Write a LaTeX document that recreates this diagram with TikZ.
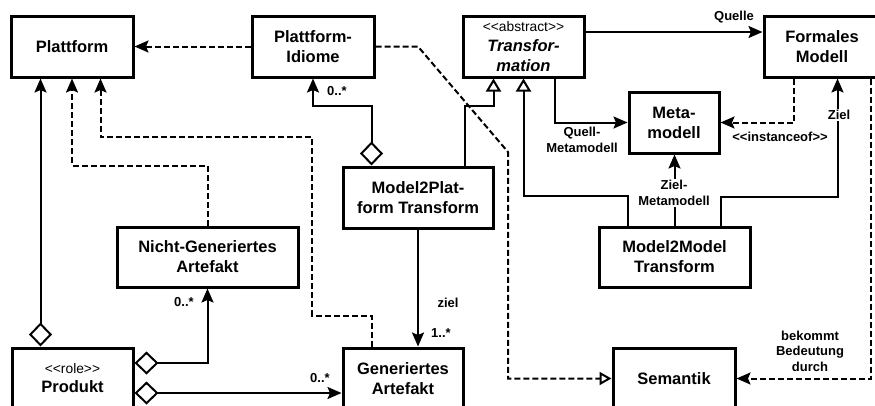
\documentclass[tikz,border=0pt]{standalone}
\usepackage{fontspec}
\setmainfont{Liberation Sans}
\usetikzlibrary{arrows.meta}
\newcommand\stl{<\kern0pt<}
\newcommand\stg{>\kern0pt>}
\newcommand\stereofont{\fontsize{13.8}{16}\selectfont\mdseries}
\begin{document}
\begin{tikzpicture}[x=1pt,y=-1pt,
  box/.style={draw, line width=3pt, fill=white, font=\bfseries\fontsize{16.5}{20}\selectfont, align=center, inner sep=0pt},
  lab/.style={font=\bfseries\fontsize{13}{15.5}\selectfont, align=center, inner sep=1pt},
  con/.style={line width=2pt},
  dsh/.style={line width=2pt, dash pattern=on 6pt off 3pt},
  filledtip/.style={-{Stealth[length=14pt,width=12pt,inset=2.5pt]}},
  opentip/.style={-{Triangle[open,length=13pt,width=15pt]}},
  smallopen/.style={-{Triangle[open,length=12pt,width=13pt]}},
  aggfilled/.style={{Diamond[open,length=24pt,width=23pt]}-{Stealth[length=14pt,width=12pt,inset=2.5pt]}},
]
\useasboundingbox (0,0) rectangle (875,405);
\clip (0,0) rectangle (875,405);

% nodes
\node[box, minimum width=122pt, minimum height=61pt] (plat) at (72,46.5) {Plattform};
\node[box, minimum width=122pt, minimum height=61pt] (idiom) at (313,46.5) {Plattform-\\Idiome};
\node[box, minimum width=121pt, minimum height=61pt] (trans) at (523.5,46.5) {{\stereofont\stl abstract\stg}\\\itshape Transfor-\\\itshape mation};
\node[box, minimum width=116pt, minimum height=61pt] (formal) at (822,46.5) {Formales\\Modell};
\node[box, minimum width=90pt, minimum height=61pt] (meta) at (674,122.5) {Meta-\\modell};
\node[box, minimum width=150pt, minimum height=61pt] (m2p) at (418,197.5) {Model2Plat-\\form Transform};
\node[box, minimum width=151pt, minimum height=60pt] (m2m) at (674.5,257) {Model2Model\\Transform};
\node[box, minimum width=181pt, minimum height=60pt] (nicht) at (207.5,257) {Nicht-Generiertes\\Artefakt};
\node[box, minimum width=121pt, minimum height=61pt] (prod) at (72.5,378.5) {{\stereofont\stl role\stg}\\[-1pt]Produkt};
\node[box, minimum width=120pt, minimum height=61pt] (gen) at (403,378.5) {Generiertes\\Artefakt};
\node[box, minimum width=122pt, minimum height=61pt] (sem) at (674,378.5) {Semantik};

% connectors
\draw[dsh, filledtip] (idiom.west) -- (plat.east);
\draw[dsh, smallopen] (idiom.east) -- (418,46.5) -- (508,152) -- (508,378.5) -- (sem.west);
\draw[con, aggfilled] ([xshift=30pt]prod.north west) -- ([xshift=31pt]plat.south west);
\draw[dsh, filledtip] (nicht.north) -- ++(0,-60) -| (plat.south);
\draw[dsh, filledtip] ([xshift=30pt]gen.north west) -- ++(0,-31) -| (312,137) -| ([xshift=91pt]plat.south west);
\draw[con, aggfilled] ([xshift=30pt]m2p.north west) -- ++(0,-60) -| (idiom.south);
\draw[con, opentip] ([xshift=-30pt]m2p.north east) -- ++(0,-60) -| ([xshift=-30pt]trans.south);
\draw[con, opentip] ([xshift=30pt]m2m.north west) -- ++(0,-30) -| (trans.south);
\draw[con, filledtip] ([xshift=-31pt]trans.south east) |- (meta.west);
\draw[con, filledtip] ([yshift=14.5pt]trans.east) -- ([yshift=14.5pt]formal.west);
\draw[dsh, filledtip] ([xshift=31pt]formal.south west) |- (meta.east);
\draw[con, filledtip] ([xshift=-31pt]m2m.north east) -- ++(0,-29) -| ([xshift=75pt]formal.south west);
\draw[con, filledtip] (m2m.north) -- (m2m.north |- meta.south);
\draw[dsh, filledtip] ([xshift=108pt]formal.south west) |- (sem.east);
\draw[con, filledtip] (m2p.south) -- (m2p.south |- gen.north);
\draw[con, aggfilled] ([yshift=15.5pt]prod.east) -| (nicht.south);
\draw[con, aggfilled] ([yshift=-14.5pt]prod.east) -- ([yshift=-14.5pt]gen.west);

% labels
\node[lab] (l1) at (337,91) {0..*};
\node[lab] (l2) at (734,17) {Quelle};
\node[lab] (l3) at (582,140) {Quell-\\Metamodell};
\node[lab] (l4) at (780,137) {\stl instanceof\stg};
\node[lab, fill=white] (l5) at (839,115) {Ziel};
\node[lab, fill=white] (l6) at (674,193) {Ziel-\\Metamodell};
\node[lab] (l7) at (810,351) {bekommt\\Bedeutung\\durch};
\node[lab] (l8) at (448,303) {ziel};
\node[lab] (l9) at (441,333) {1..*};
\node[lab] (l10) at (184,302) {0..*};
\node[lab] (l11) at (320,378) {0..*};
\end{tikzpicture}
\end{document}
